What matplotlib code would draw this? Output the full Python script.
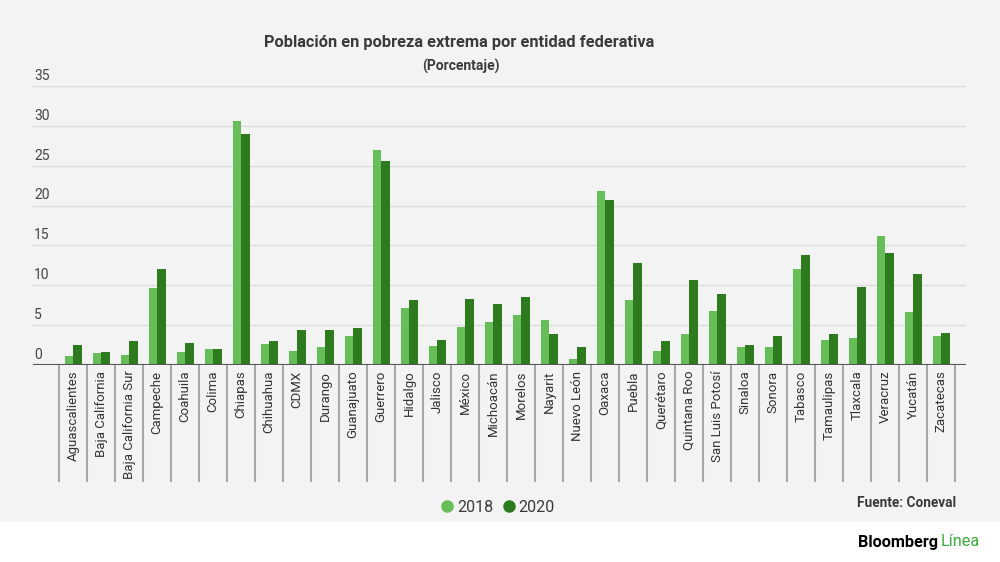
import matplotlib
matplotlib.use("Agg")
import matplotlib.pyplot as plt
import numpy as np
from matplotlib.patches import Rectangle
from matplotlib.lines import Line2D
from matplotlib.transforms import blended_transform_factory

states = ["Aguascalientes", "Baja California", "Baja California Sur", "Campeche", "Coahuila",
          "Colima", "Chiapas", "Chihuahua", "CDMX", "Durango", "Guanajuato", "Guerrero",
          "Hidalgo", "Jalisco", "México", "Michoacán", "Morelos", "Nayarit", "Nuevo León",
          "Oaxaca", "Puebla", "Querétaro", "Quintana Roo", "San Luis Potosí", "Sinaloa",
          "Sonora", "Tabasco", "Tamaulipas", "Tlaxcala", "Veracruz", "Yucatán", "Zacatecas"]
v2018 = [1.1, 1.5, 1.3, 9.6, 1.6, 2.0, 30.6, 2.6, 1.8, 2.3, 3.7, 27.0,
         7.1, 2.4, 4.8, 5.4, 6.3, 5.7, 0.8, 21.8, 8.2, 1.8, 3.9, 6.8, 2.3,
         2.3, 12.1, 3.1, 3.4, 16.2, 6.6, 3.7]
v2020 = [2.5, 1.6, 3.0, 12.1, 2.7, 2.0, 29.0, 3.0, 4.4, 4.4, 4.6, 25.6,
         8.2, 3.1, 8.3, 7.7, 8.5, 3.9, 2.2, 20.7, 12.8, 3.0, 10.7, 8.9, 2.5,
         3.6, 13.8, 3.9, 9.8, 14.0, 11.4, 4.0]
years = ["2018", "2020"]
yticks = [0, 5, 10, 15, 20, 25, 30, 35]

C18 = "#67bd58"
C20 = "#2e7a1f"
BG = "#f3f3f3"
TXT = "#3a3a3a"

plt.rcParams["font.family"] = ["Roboto", "DejaVu Sans"]

fig = plt.figure(figsize=(10, 5.62), dpi=100)
fig.patch.set_facecolor(BG)
fig.patches.append(Rectangle((0, 0), 1, 40 / 562, transform=fig.transFigure,
                             facecolor="white", edgecolor="none", zorder=0))

W, H = 1000, 562
left, right, top, bottom = 33, 966, 86, 365
ax = fig.add_axes([left / W, 1 - bottom / H, (right - left) / W, (bottom - top) / H])
ax.set_facecolor(BG)

x = np.arange(len(states))
bw = 0.29
off = 0.16
ax.bar(x - off, v2018, width=bw, color=C18, zorder=3)
ax.bar(x + off, v2020, width=bw, color=C20, zorder=3)

ax.set_xlim(-1.43, 31.89)
ax.set_ylim(0, 35)

for s in ax.spines.values():
    s.set_visible(False)
ax.axhline(0, color="#555555", lw=1.5, zorder=4)
for t in yticks[1:]:
    ax.axhline(t, color="#dcdcdc", lw=1.0, zorder=1)

ax.set_yticks([])
trY = blended_transform_factory(ax.transAxes, ax.transData)
for t in yticks:
    ax.text(1 / (right - left), t + 0.4, str(t), transform=trY, ha="left", va="bottom",
            fontsize=10, color="#444444")

ax.set_xticks(x)
ax.set_xticklabels(states, rotation=90, fontsize=9.5, color="#333333", va="top", ha="center")
ax.tick_params(axis="x", length=0, pad=4)

trX = blended_transform_factory(ax.transData, ax.transAxes)
sep_bottom = -(482 - 365) / (bottom - top)
ax.vlines(np.arange(len(states) + 1) - 0.5, sep_bottom, 0, transform=trX,
          colors="#a8a8a8", lw=1.5, clip_on=False, zorder=2)

fig.text(459 / W, 1 - 42 / H, "Población en pobreza extrema por entidad federativa",
         ha="center", va="center", fontsize=11.8, fontweight="bold", color=TXT)
fig.text(461 / W, 1 - 66 / H, "(Porcentaje)", ha="center", va="center",
         fontsize=10, fontweight="bold", color=TXT)

handles = [Line2D([], [], marker="o", ls="none", color=C18, markersize=8),
           Line2D([], [], marker="o", ls="none", color=C20, markersize=8)]
leg = fig.legend(handles, years, loc="center", bbox_to_anchor=(497 / W, 1 - 507 / H), ncol=2,
                 frameon=False, handletextpad=0.1, columnspacing=0.5, handlelength=1.0,
                 prop={"size": 11.5})
for t in leg.get_texts():
    t.set_color(TXT)

fig.text(956 / W, 1 - 503 / H, "Fuente: Coneval", ha="right", va="center",
         fontsize=9.8, fontweight="bold", color=TXT)

tb = fig.text(858 / W, 1 - 542 / H, "Bloomberg", ha="left", va="center",
              fontsize=11.7, fontweight="bold", color="black")
fig.canvas.draw()
bb = tb.get_window_extent()
fig.text((bb.x1 + 3) / W, 1 - 542 / H, "Línea", ha="left", va="center",
         fontsize=11.7, color="#3daa3d")

fig.savefig("out.png", dpi=100, facecolor=fig.get_facecolor())
